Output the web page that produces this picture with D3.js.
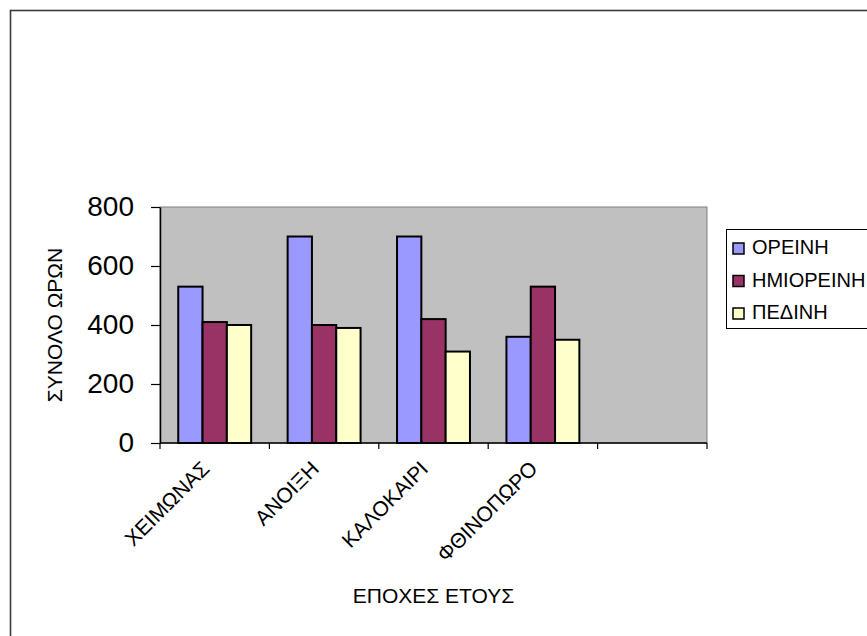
<!DOCTYPE html>
<html>
<head>
<meta charset="utf-8">
<script src="https://cdn.jsdelivr.net/npm/d3@7"></script>
<style>
  body { margin: 0; background: #fff; }
  text { font-family: Arial, "Liberation Sans", sans-serif; fill: #000; }
</style>
</head>
<body>
<div id="chart"></div>
<script>
"use strict";
// seasons bar chart

// categories (the fifth slot is empty in the original)
var seasons = ["ΧΕΙΜΩΝΑΣ", "ΑΝΟΙΞΗ", "ΚΑΛΟΚΑΙΡΙ", "ΦΘΙΝΟΠΩΡΟ", ""];
var seriesNames = ["ΟΡΕΙΝΗ", "ΗΜΙΟΡΕΙΝΗ", "ΠΕΔΙΝΗ"];
var seriesColors = ["#9999FF", "#993366", "#FFFFCC"];

// values per series, one per season
var oreini = [530, 700, 700, 360];
var imioreini = [410, 400, 420, 530];
var pedini = [400, 390, 310, 350];

var yTicks = [0, 200, 400, 600, 800];

var svgWidth = 867;
var svgHeight = 636;

// plot area
var plotLeft = 160, plotRight = 707, plotTop = 207, plotBottom = 443;

var svg = d3.select("#chart")
    .append("svg")
    .attr("width", svgWidth)
    .attr("height", svgHeight);

// chart frame, cut off by the window on right and bottom
svg.append("rect")
    .attr("x", 10.5).attr("y", 10.5)
    .attr("width", 900).attr("height", 700)
    .attr("fill", "#fff")
    .attr("stroke", "#3a3a3a")
    .attr("stroke-width", 1.6);

var x0 = d3.scaleBand().domain(seasons).range([plotLeft, plotRight]).paddingInner(0).paddingOuter(0);
var x1 = d3.scaleBand().domain(seriesNames).range([0, x0.bandwidth()]).paddingInner(0).paddingOuter(0.75);
var y = d3.scaleLinear().domain([0, 800]).range([plotBottom, plotTop]);

// plot area background
svg.append("rect")
    .attr("x", plotLeft).attr("y", plotTop)
    .attr("width", plotRight - plotLeft).attr("height", plotBottom - plotTop)
    .attr("fill", "#C0C0C0")
    .attr("stroke", "#808080")
    .attr("stroke-width", 1);

var table = seriesNames.map(function(name, i) {
    var vals = [oreini, imioreini, pedini][i];
    return vals.map(function(v, j) { return { season: seasons[j], series: name, value: v, color: seriesColors[i] }; });
});

svg.append("g").selectAll("g")
    .data(table)
    .join("g")
    .selectAll("rect")
    .data(function(d) { return d; })
    .join("rect")
    .attr("x", function(d) { return x0(d.season) + x1(d.series); })
    .attr("y", function(d) { return y(d.value); })
    .attr("width", x1.bandwidth())
    .attr("height", function(d) { return y(0) - y(d.value); })
    .attr("fill", function(d) { return d.color; })
    .attr("stroke", "#000")
    .attr("stroke-width", 2);

// y axis
var yAxis = svg.append("g")
    .attr("transform", "translate(" + plotLeft + ",0)")
    .call(d3.axisLeft(y).tickValues(yTicks).tickSize(9).tickPadding(17).tickSizeOuter(0));
yAxis.select(".domain").attr("stroke", "#000").attr("stroke-width", 1.5);
yAxis.selectAll("line").attr("stroke", "#000").attr("stroke-width", 1.2);
yAxis.selectAll("text")
    .attr("font-size", 28)
    .style("font-family", "Arial, 'Liberation Sans', sans-serif");

// x axis: ticks at band edges
var edges = seasons.map(function(s) { return x0(s); }).concat([plotRight]);
var xAxis = svg.append("g");
xAxis.append("line")
    .attr("x1", plotLeft).attr("x2", plotRight)
    .attr("y1", plotBottom).attr("y2", plotBottom)
    .attr("stroke", "#000").attr("stroke-width", 1.5);
xAxis.selectAll(".tick")
    .data(edges)
    .join("line")
    .attr("x1", function(d) { return d; }).attr("x2", function(d) { return d; })
    .attr("y1", plotBottom).attr("y2", plotBottom + 6)
    .attr("stroke", "#000").attr("stroke-width", 1.2);

xAxis.selectAll(".lab")
    .data(seasons.filter(function(s) { return s !== ""; }))
    .join("text")
    .attr("transform", function(d) {
        return "translate(" + (x0(d) + x0.bandwidth() / 2 - 4) + "," + (plotBottom + 27) + ") rotate(-45)";
    })
    .attr("text-anchor", "end")
    .attr("font-size", 21)
    .text(function(d) { return d; });

// axis titles
svg.append("text")
    .attr("transform", "translate(62," + ((plotTop + plotBottom) / 2) + ") rotate(-90)")
    .attr("text-anchor", "middle")
    .attr("font-size", 21)
    .text("ΣΥΝΟΛΟ ΩΡΩΝ");

svg.append("text")
    .attr("x", (plotLeft + plotRight) / 2)
    .attr("y", 603)
    .attr("text-anchor", "middle")
    .attr("font-size", 21)
    .text("ΕΠΟΧΕΣ ΕΤΟΥΣ");

// legend
var legend = svg.append("g");
legend.append("rect")
    .attr("x", 726.5).attr("y", 229.5)
    .attr("width", 160).attr("height", 99)
    .attr("fill", "#fff")
    .attr("stroke", "#000")
    .attr("stroke-width", 1);

var items = legend.selectAll(".item")
    .data(seriesNames)
    .join("g")
    .attr("transform", function(d, i) { return "translate(733," + (243 + i * 32.5) + ")"; });
items.append("rect")
    .attr("width", 11).attr("height", 11)
    .attr("fill", function(d, i) { return seriesColors[i]; })
    .attr("stroke", "#000")
    .attr("stroke-width", 1.5);
items.append("text")
    .attr("x", 19)
    .attr("y", 11)
    .attr("font-size", 20)
    .text(function(d) { return d; });
</script>
</body>
</html>
